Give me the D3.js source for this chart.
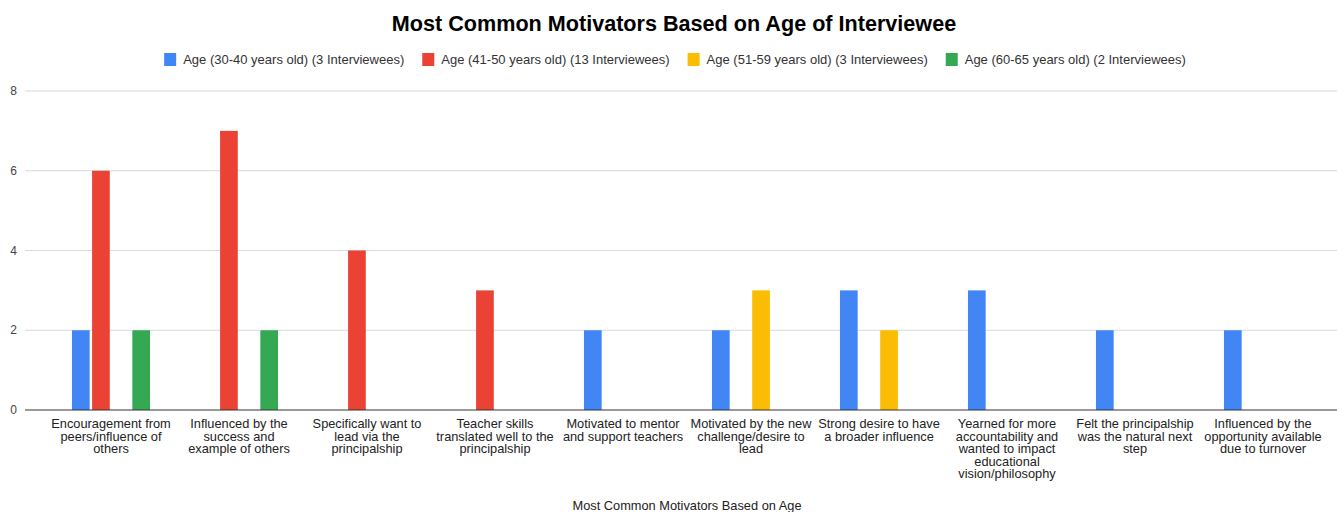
<!DOCTYPE html>
<html>
<head>
<meta charset="utf-8">
<script src="https://cdn.jsdelivr.net/npm/d3@7"></script>
<style>
  html, body { margin: 0; padding: 0; background: #fff; }
  svg { display: block; font-family: "Liberation Sans", Arial, sans-serif; }
</style>
</head>
<body>
<svg id="chart" width="1337" height="512"></svg>
<script>
// Motivators (line breaks mark how each axis label wraps)
const categories = [
  "Encouragement from\npeers/influence of\nothers",
  "Influenced by the\nsuccess and\nexample of others",
  "Specifically want to\nlead via the\nprincipalship",
  "Teacher skills\ntranslated well to the\nprincipalship",
  "Motivated to mentor\nand support teachers",
  "Motivated by the new\nchallenge/desire to\nlead",
  "Strong desire to have\na broader influence",
  "Yearned for more\naccountability and\nwanted to impact\neducational\nvision/philosophy",
  "Felt the principalship\nwas the natural next\nstep",
  "Influenced by the\nopportunity available\ndue to turnover"
];

const seriesNames = [
  "Age (30-40 years old) (3 Interviewees)",
  "Age (41-50 years old) (13 Interviewees)",
  "Age (51-59 years old) (3 Interviewees)",
  "Age (60-65 years old) (2 Interviewees)"
];
const seriesColors = ["#4285F4", "#EA4335", "#FBBC04", "#34A853"];

// Number of interviewees citing each motivator, per age group
const age30to40 = [2, 0, 0, 0, 2, 2, 3, 3, 2, 2];
const age41to50 = [6, 7, 4, 3, 0, 0, 0, 0, 0, 0];
const age51to59 = [0, 0, 0, 0, 0, 3, 2, 0, 0, 0];
const age60to65 = [2, 2, 0, 0, 0, 0, 0, 0, 0, 0];
const seriesValues = [age30to40, age41to50, age51to59, age60to65];

const yTicks = [0, 2, 4, 6, 8];

const chartTitle = "Most Common Motivators Based on Age of Interviewee";
const xAxisTitle = "Most Common Motivators Based on Age";

const svg = d3.select("#chart");

const plot = { left: 47, right: 1327, top: 91, bottom: 410, gridLeft: 25, gridRight: 1337 };

const x0 = d3.scaleBand()
  .domain(d3.range(categories.length))
  .range([plot.left, plot.right])
  .paddingInner(0.39)
  .paddingOuter(0.195);

const x1 = d3.scaleBand()
  .domain(d3.range(seriesNames.length))
  .range([0, x0.bandwidth()])
  .paddingInner(0.12);

const y = d3.scaleLinear().domain([0, 8]).range([plot.bottom, plot.top]);

// Title
svg.append("text")
  .attr("x", 674).attr("y", 31)
  .attr("text-anchor", "middle")
  .attr("font-size", 21.6).attr("font-weight", "bold").attr("fill", "#000")
  .text(chartTitle);

// Legend
const legend = svg.append("g").attr("font-size", 13).attr("fill", "#333");
const items = legend.selectAll("g").data(seriesNames).join("g");
items.append("rect")
  .attr("y", 53).attr("width", 12).attr("height", 13)
  .attr("fill", (d, i) => seriesColors[i]);
items.append("text")
  .attr("y", 64)
  .text(d => d);
const widths = [];
items.each(function () {
  widths.push(d3.select(this).select("text").node().getComputedTextLength());
});
const swatchGap = 19, itemGap = 18;
const totalW = d3.sum(widths) + widths.length * swatchGap + (widths.length - 1) * itemGap;
let cursor = 675 - totalW / 2;
items.each(function (d, i) {
  const g = d3.select(this);
  g.select("rect").attr("x", cursor);
  g.select("text").attr("x", cursor + swatchGap);
  cursor += swatchGap + widths[i] + itemGap;
});

// Gridlines and y tick labels
const yAxis = svg.append("g");
yAxis.selectAll("line.grid").data(yTicks.filter(t => t > 0)).join("line")
  .attr("class", "grid")
  .attr("x1", plot.gridLeft).attr("x2", plot.gridRight)
  .attr("y1", d => y(d)).attr("y2", d => y(d))
  .attr("stroke", "#d9d9d9").attr("stroke-width", 1);
yAxis.selectAll("text").data(yTicks).join("text")
  .attr("x", 17).attr("y", d => y(d) + 4)
  .attr("text-anchor", "end")
  .attr("font-size", 12).attr("fill", "#444")
  .text(d => d);

// Bars
const groups = svg.append("g").selectAll("g").data(categories).join("g")
  .attr("transform", (d, i) => `translate(${x0(i)},0)`);
groups.selectAll("rect")
  .data((d, ci) => seriesValues.map((vals, si) => ({ si, v: vals[ci] })).filter(e => e.v > 0))
  .join("rect")
  .attr("x", e => x1(e.si))
  .attr("width", x1.bandwidth())
  .attr("y", e => y(e.v))
  .attr("height", e => y(0) - y(e.v))
  .attr("fill", e => seriesColors[e.si]);

// Baseline
svg.append("line")
  .attr("x1", plot.gridLeft).attr("x2", plot.gridRight)
  .attr("y1", y(0)).attr("y2", y(0))
  .attr("stroke", "#333").attr("stroke-width", 1);

// Category labels
const xLabels = svg.append("g").attr("font-size", 12.8).attr("fill", "#222").attr("text-anchor", "middle");
xLabels.selectAll("text").data(categories).join("text")
  .attr("transform", (d, i) => `translate(${x0(i) + x0.bandwidth() / 2},428)`)
  .each(function (d) {
    d3.select(this).selectAll("tspan").data(d.split("\n")).join("tspan")
      .attr("x", 0).attr("y", (l, k) => k * 12.5)
      .text(l => l);
  });

// X axis title
svg.append("text")
  .attr("x", 687).attr("y", 510)
  .attr("text-anchor", "middle")
  .attr("font-size", 12.8).attr("fill", "#222")
  .text(xAxisTitle);
</script>
</body>
</html>
